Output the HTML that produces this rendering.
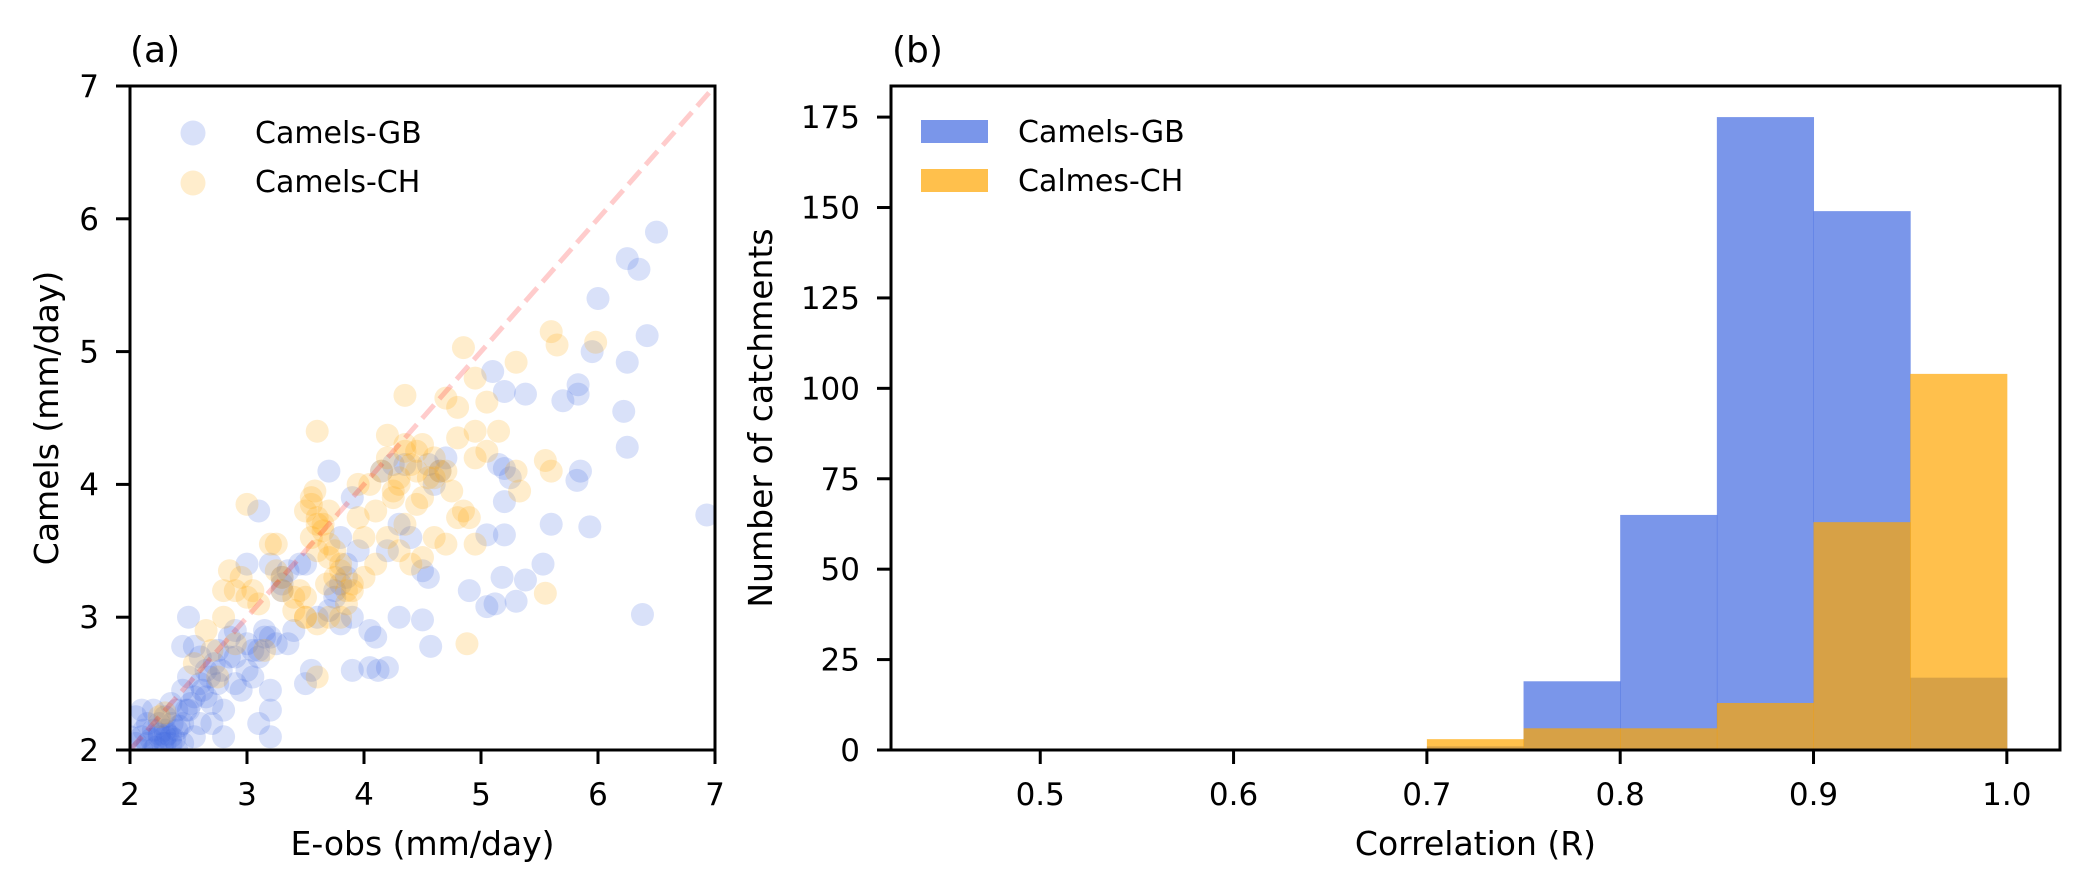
<!DOCTYPE html>
<html><head><meta charset="utf-8"><style>
body{margin:0;background:#fff}
svg{display:block;font-family:"DejaVu Sans","Liberation Sans",sans-serif}
text{fill:#000}
</style></head><body>
<svg id="fig" width="2090" height="892" viewBox="0 0 2090 892" xmlns="http://www.w3.org/2000/svg">
<g id="pa"></g>
<g id="pb"></g>
</svg>
<script>
const gbX=[6.5,6.25,6.35,6.0,6.42,5.95,6.25,5.1,5.2,5.38,5.7,5.83,5.83,6.22,6.25,5.85,5.82,5.15,5.2,5.25,5.2,5.6,5.93,6.93,5.05,5.2,5.53,5.18,5.38,4.9,5.05,5.12,5.3,6.38,4.55,4.5,4.3,4.5,4.57,3.9,4.1,4.05,3.9,4.05,4.12,4.2,3.5,3.55,3.2,3.2,3.1,3.2,2.95,3.0,3.1,3.05,2.8,2.7,2.5,2.55,2.45,2.6,3.0,3.1,3.7,3.9,4.25,4.35,4.15,4.65,4.3,4.4,3.8,3.3,3.3,3.2,3.5,3.6,3.75,3.85,3.95,3.8,3.7,3.4,3.35,3.2,3.0,2.9,2.85,2.9,2.75,2.65,2.05,2.1,2.15,2.2,2.25,2.3,2.35,2.4,2.45,2.3,2.2,2.1,2.05,2.35,2.4,2.5,2.55,2.6,2.5,2.45,2.25,2.15,2.3,2.6,2.7,2.8,2.65,2.75,2.85,2.35,2.45,2.55,2.0,2.1,2.2,2.4,2.3,2.25,2.38,2.42,2.18,2.28,2.32,2.22,2.12,2.36,2.48,2.52,2.62,2.68,2.72,2.78,2.9,3.05,3.15,3.25,3.3,3.35,3.45,3.1,3.15,3.8,3.85,3.75,4.55,4.2,4.6,4.7];
const gbY=[5.9,5.7,5.62,5.4,5.12,5.0,4.92,4.85,4.7,4.68,4.63,4.75,4.68,4.55,4.28,4.1,4.03,4.15,4.12,4.05,3.87,3.7,3.68,3.77,3.62,3.62,3.4,3.3,3.28,3.2,3.08,3.1,3.12,3.02,3.3,3.35,3.0,2.98,2.78,3.0,2.85,2.9,2.6,2.62,2.6,2.62,2.5,2.6,2.45,2.3,2.2,2.1,2.45,2.6,2.7,2.55,2.1,2.2,3.0,2.78,2.78,2.7,3.4,3.8,4.1,3.9,4.15,4.15,4.1,4.1,3.7,3.6,3.6,3.3,3.2,3.4,3.4,3.0,3.2,3.3,3.5,2.95,3.05,2.9,2.8,2.85,2.8,2.9,2.7,2.5,2.5,2.4,2.05,2.1,2.05,2.15,2.1,2.05,2.1,2.15,2.2,2.25,2.3,2.3,2.25,2.35,2.3,2.3,2.4,2.5,2.55,2.45,2.2,2.2,2.15,2.2,2.35,2.3,2.6,2.75,2.85,2.05,2.05,2.1,2.1,2.0,2.0,2.0,2.1,2.12,2.08,2.18,2.08,2.05,2.12,2.02,2.15,2.2,2.3,2.35,2.45,2.55,2.65,2.6,2.7,2.75,2.85,2.8,3.25,3.35,3.4,2.75,2.9,3.25,3.4,3.15,4.15,3.5,4.0,4.2];
const chX=[4.85,5.6,5.65,5.98,5.3,4.95,5.05,4.8,4.7,4.35,4.95,5.15,4.8,4.2,4.35,4.45,4.6,4.7,4.6,4.95,5.05,5.3,5.33,5.55,5.6,5.55,4.88,4.8,4.95,4.7,4.5,4.3,4.1,4.2,4.3,4.0,3.95,4.05,3.6,3.55,3.5,3.7,3.65,3.55,3.6,3.7,3.8,3.75,3.85,3.8,3.6,3.5,3.4,3.3,3.25,3.2,3.25,3.0,2.85,2.8,2.9,3.0,2.8,2.7,2.75,2.55,2.3,2.25,3.6,4.0,4.1,3.9,4.4,4.5,4.6,4.25,3.3,3.45,3.1,2.9,2.65,3.15,3.95,3.55,3.6,3.65,3.7,3.75,3.8,3.68,3.58,4.15,4.2,4.3,4.4,4.5,4.55,4.45,4.35,4.25,4.65,4.75,4.85,4.9,4.35,4.45,3.6,3.7,3.5,3.85,3.9,2.95,3.05,3.4,3.5];
const chY=[5.03,5.15,5.05,5.07,4.92,4.8,4.62,4.58,4.65,4.67,4.4,4.4,4.35,4.37,4.3,4.25,4.2,4.1,4.05,4.2,4.25,4.1,3.95,4.18,4.1,3.18,2.8,3.75,3.55,3.55,3.9,4.05,3.8,3.6,3.5,3.6,4.0,4.0,4.4,3.9,3.8,3.8,3.7,3.6,3.5,3.45,3.4,3.3,3.2,3.0,2.95,3.0,3.05,3.2,3.35,3.55,3.55,3.85,3.35,3.2,3.2,3.15,3.0,2.75,2.55,2.65,2.28,2.25,2.55,3.3,3.4,3.2,3.4,3.45,3.6,3.95,3.3,3.2,3.1,2.8,2.9,2.75,3.75,3.85,3.75,3.65,3.55,3.5,3.35,3.25,3.95,4.1,4.2,4.0,4.15,4.3,4.05,4.1,4.25,3.9,4.1,3.95,3.8,3.75,3.7,3.85,3.7,3.0,3.15,3.1,3.25,3.3,3.2,3.15,3.0,3.05];
const aTicks=[2,3,4,5,6,7];
const binEdges=[0.70,0.75,0.80,0.85,0.90,0.95,1.00];
const gbCounts=[1,19,65,175,149,20];
const chCounts=[3,6,6,13,63,104];
const bxTicks=[0.5,0.6,0.7,0.8,0.9,1.0];
const byTicks=[0,25,50,75,100,125,150,175];

const NS="http://www.w3.org/2000/svg";
function mk(parent,tag,attrs,txt){const e=document.createElementNS(NS,tag);for(const k in attrs)e.setAttribute(k,attrs[k]);if(txt!==undefined)e.textContent=txt;parent.appendChild(e);return e;}
const TF=31, LF=33, GF=30, PF=36;

// Panel A
const pa=document.getElementById('pa');
const AL=130,AR=715,AT=86,AB=750;
const ax=v=>AL+(v-2)/5*(AR-AL), ay=v=>AB-(v-2)/5*(AB-AT);
mk(pa,'clipPath',{id:'ca'});
mk(document.getElementById('ca'),'rect',{x:AL,y:AT,width:AR-AL,height:AB-AT});
const ga=mk(pa,'g',{'clip-path':'url(#ca)'});


for(let i=0;i<gbX.length;i++){const c=mk(ga,'circle',{cx:ax(gbX[i]),cy:ay(gbY[i]),r:11.5,fill:'#4169e1','fill-opacity':0.2});

}
for(let i=0;i<chX.length;i++){const c=mk(ga,'circle',{cx:ax(chX[i]),cy:ay(chY[i]),r:11.5,fill:'#ffa500','fill-opacity':0.2});

}
const dl=mk(ga,'line',{x1:ax(2),y1:ay(2),x2:ax(7),y2:ay(7),stroke:'#ff0000','stroke-opacity':0.2,'stroke-width':5,'stroke-dasharray':'18,8'});


const fa=mk(pa,'rect',{x:AL,y:AT,width:AR-AL,height:AB-AT,fill:'none',stroke:'#000','stroke-width':3});


for(const t of aTicks){
 mk(pa,'line',{x1:ax(t),y1:AB,x2:ax(t),y2:AB+14,stroke:'#000','stroke-width':3});
 const tx=mk(pa,'text',{x:ax(t),y:805,'font-size':TF,'text-anchor':'middle'},t);
 
 
 mk(pa,'line',{x1:AL-14,y1:ay(t),x2:AL,y2:ay(t),stroke:'#000','stroke-width':3});
 const ty=mk(pa,'text',{x:AL-31,y:ay(t)+11,'font-size':TF,'text-anchor':'end'},t);
 
 
}
let e;
e=mk(pa,'text',{x:(AL+AR)/2,y:855,'font-size':LF,'text-anchor':'middle'},'E-obs (mm/day)');

e=mk(pa,'text',{x:0,y:0,'font-size':LF,'text-anchor':'middle',transform:'translate(58,418) rotate(-90)'},'Camels (mm/day)');

e=mk(pa,'text',{x:130,y:62,'font-size':PF},'(a)');

e=mk(pa,'circle',{cx:193,cy:133,r:12.5,fill:'#4169e1','fill-opacity':0.2});

e=mk(pa,'text',{x:255,y:143,'font-size':GF},'Camels-GB');

e=mk(pa,'circle',{cx:193,cy:183,r:12.5,fill:'#ffa500','fill-opacity':0.2});

e=mk(pa,'text',{x:255,y:192,'font-size':GF},'Camels-CH');


// Panel B
const pb=document.getElementById('pb');
const BL=891,BR=2060,BT=86,BB=750,XMIN=0.4228,XMAX=1.0275,YMAX=183.6;
const bx=v=>BL+(v-XMIN)/(XMAX-XMIN)*(BR-BL), by=v=>BB-v/YMAX*(BB-BT);
for(let i=0;i<gbCounts.length;i++){
 const r=mk(pb,'rect',{x:bx(binEdges[i]),y:by(gbCounts[i]),width:bx(binEdges[i+1])-bx(binEdges[i])+0.5,height:BB-by(gbCounts[i]),fill:'#4169e1','fill-opacity':0.7});
 
 
}
for(let i=0;i<chCounts.length;i++){
 const r=mk(pb,'rect',{x:bx(binEdges[i]),y:by(chCounts[i]),width:bx(binEdges[i+1])-bx(binEdges[i])+0.5,height:BB-by(chCounts[i]),fill:'#ffa500','fill-opacity':0.7});
 
 
}
e=mk(pb,'rect',{x:BL,y:BT,width:BR-BL,height:BB-BT,fill:'none',stroke:'#000','stroke-width':3});

for(const t of bxTicks){
 mk(pb,'line',{x1:bx(t),y1:BB,x2:bx(t),y2:BB+14,stroke:'#000','stroke-width':3});
 const tx=mk(pb,'text',{x:bx(t),y:805,'font-size':TF,'text-anchor':'middle'},t.toFixed(1));
 
 
}
for(const t of byTicks){
 mk(pb,'line',{x1:BL-14,y1:by(t),x2:BL,y2:by(t),stroke:'#000','stroke-width':3});
 const ty=mk(pb,'text',{x:BL-31,y:by(t)+11,'font-size':TF,'text-anchor':'end'},t);
 
 
}
e=mk(pb,'text',{x:(BL+BR)/2,y:855,'font-size':LF,'text-anchor':'middle'},'Correlation (R)');

e=mk(pb,'text',{x:0,y:0,'font-size':LF,'text-anchor':'middle',transform:'translate(772,418) rotate(-90)'},'Number of catchments');

e=mk(pb,'text',{x:892,y:62,'font-size':PF},'(b)');

e=mk(pb,'rect',{x:921,y:120,width:67,height:23,fill:'#4169e1','fill-opacity':0.7});

e=mk(pb,'text',{x:1018,y:142,'font-size':GF},'Camels-GB');

e=mk(pb,'rect',{x:921,y:169,width:67,height:23,fill:'#ffa500','fill-opacity':0.7});

e=mk(pb,'text',{x:1018,y:191,'font-size':GF},'Calmes-CH');

</script>
</body></html>
